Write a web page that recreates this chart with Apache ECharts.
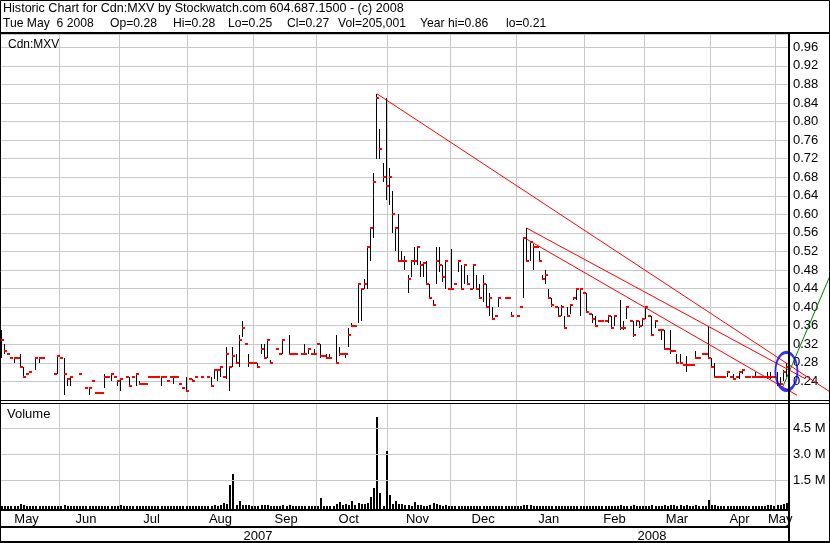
<!DOCTYPE html>
<html><head><meta charset="utf-8">
<script src="https://cdn.jsdelivr.net/npm/echarts@6/dist/echarts.min.js"></script>
<style>html,body{margin:0;padding:0;background:#fff}#c{width:830px;height:543px}</style>
</head><body><div id="c"></div>
<script>
// ---- data (one entry per trading day, May 7 2007 .. May 6 2008; null = no trade) ----
const high = [
.35,.32,.30,.29,.29,.29,.30,.27,.255,.26,
null,.29,.29,.29,null,null,null,.255,.295,.29,
.29,.245,.25,null,null,.255,null,.225,.225,.24,
.215,.215,.215,.255,.25,.255,.25,.24,.245,null,
.25,.25,.25,.255,.24,.235,.235,.25,.25,.25,
.25,.25,.25,.24,.25,.25,.25,.235,.225,.25,
.245,.245,.25,null,.25,null,.25,.25,.265,.265,
.27,.25,.315,.27,.315,.30,.34,.37,.32,.30,
.28,.28,.28,.32,.32,.33,.285,null,.31,.30,
.33,null,.34,.30,.30,null,.30,.32,.31,.30,
.31,.32,.32,.295,.30,.30,null,.34,.315,.30,
.30,.355,.365,.36,.45,.44,.46,.53,.57,.69,
.86,.785,.71,.85,.70,.65,.57,.60,.52,.51,
.47,.50,.53,.53,.50,.495,.50,.45,.415,.53,
.53,.49,.50,.44,.525,.45,.50,.49,.49,.47,
.44,.49,.47,.45,.47,.45,.43,.40,.38,.42,
null,.42,.42,.39,null,.38,.40,.55,.57,.54,
.535,.53,.52,.47,.48,.44,.42,.40,.40,.405,
.38,.40,.405,.42,.44,.44,.43,.43,.385,.385,
.38,.37,.37,.37,.38,.38,.38,null,.415,.37,
.40,.37,.37,.37,.37,.375,.40,.38,.38,.37,
.35,.35,.35,.31,.35,.305,.30,.30,.275,.295,
.275,.275,.305,.29,.30,.30,.36,.29,.28,.25,
.25,.25,.26,.25,.255,.25,.26,.265,.25,.25,
.25,.26,.25,.25,.25,.26,.26,.25,.26,.25,
.265,.28];
const low = [
.29,.30,.30,.29,.28,.29,.27,.25,.255,.26,
null,.265,.28,.29,null,null,null,.255,.255,.29,
.21,.23,.23,null,null,.255,null,.225,.21,.24,
.215,.215,.215,.225,.25,.24,.25,.23,.22,null,
.25,.23,.25,.23,.235,.235,.235,.25,.25,.25,
.25,.23,.25,.24,.25,.235,.25,.235,.225,.22,
.245,.24,.25,null,.25,null,.25,.23,.245,.24,
.25,.25,.245,.22,.27,.28,.27,.335,.32,.27,
.28,.28,.27,.30,.29,.29,.28,null,.31,.30,
.30,null,.30,.30,.30,null,.30,.30,.30,.30,
.30,.32,.29,.295,.29,.29,null,.28,.295,.30,
.29,.315,.36,.36,.365,.37,.44,.44,.50,.55,
.72,.72,.67,.63,.62,.56,.52,.50,.50,.48,
.43,.465,.49,.49,.465,.465,.45,.42,.405,.45,
.475,.455,.44,.44,.44,.45,.475,.44,.45,.45,
.44,.44,.44,.42,.41,.40,.38,.375,.38,.40,
null,.42,.42,.38,null,.38,.40,.42,.50,.50,
.48,.53,.50,.46,.45,.42,.40,.40,.38,.38,
.355,.38,.385,.415,.415,.38,.43,.39,.385,.365,
.36,.37,.37,.37,.365,.355,.36,null,.35,.35,
.375,.37,.335,.36,.355,.36,.375,.38,.34,.355,
.35,.33,.31,.31,.30,.305,.28,.28,.275,.26,
.275,.275,.29,.29,.30,.30,.29,.27,.25,.25,
.25,.25,.25,.25,.245,.25,.245,.255,.25,.25,
.25,.25,.25,.25,.25,.245,.245,.25,.23,.23,
.24,.25];
const close = [
.33,.305,.30,.29,.29,.29,.27,.25,.255,.26,
null,.29,.29,.29,null,null,null,.255,.295,.29,
.255,.245,.25,null,null,.255,null,.225,.225,.24,
.215,.215,.215,.25,.25,.255,.25,.24,.245,null,
.25,.23,.25,.255,.235,.235,.235,.25,.25,.25,
.25,.25,.25,.24,.25,.25,.25,.235,.225,.22,
.245,.24,.25,null,.25,null,.25,.23,.265,.265,
.27,.25,.30,.27,.295,.28,.33,.355,.32,.28,
.28,.28,.27,.31,.29,.33,.28,null,.31,.30,
.33,null,.30,.30,.30,null,.30,.30,.31,.30,
.30,.32,.295,.295,.29,.29,null,.28,.30,.30,
.30,.34,.36,.36,.45,.44,.45,.53,.57,.67,
.85,.74,.68,.66,.68,.60,.57,.50,.50,.50,
.46,.50,.50,.53,.49,.495,.45,.42,.405,.50,
.49,.465,.50,.44,.44,.45,.50,.44,.49,.45,
.44,.49,.44,.42,.45,.40,.42,.375,.38,.42,
null,.42,.42,.38,null,.38,.40,.55,.50,.54,
.53,.53,.50,.46,.47,.42,.405,.40,.38,.40,
.355,.38,.405,.42,.44,.44,.43,.39,.385,.375,
.36,.37,.37,.37,.38,.355,.38,null,.355,.355,
.40,.37,.34,.37,.36,.375,.40,.38,.34,.37,
.35,.35,.31,.31,.305,.305,.28,.28,.275,.275,
.275,.275,.29,.29,.30,.30,.29,.27,.25,.25,
.25,.25,.26,.25,.245,.25,.26,.265,.25,.25,
.25,.25,.25,.25,.25,.25,.25,.25,.235,.235,
.26,.27];
// volume in thousands of shares
const volumeK = [
40,25,15,20,30,25,130,60,20,25,
0,30,20,15,0,0,0,20,40,20,
60,30,25,0,0,15,0,20,35,15,
20,15,20,40,20,30,20,25,60,0,
20,30,20,35,25,20,20,25,20,30,
25,35,20,20,25,30,20,20,25,40,
20,25,20,0,20,0,20,40,50,40,
60,170,130,1230,1870,100,310,80,60,50,
40,35,30,80,70,90,40,0,30,25,
50,0,60,25,20,0,25,40,30,25,
30,40,500,40,30,30,0,150,270,60,
130,100,330,60,170,130,150,200,560,1060,
5130,790,30,3190,650,130,310,130,130,50,
60,40,250,60,60,40,40,60,170,130,
60,40,50,20,40,25,40,30,35,25,
20,30,25,30,40,30,25,20,25,30,
0,20,20,25,0,20,30,60,80,50,
40,30,35,40,30,40,30,25,40,35,
30,25,30,40,35,40,25,30,20,30,
25,20,25,30,35,40,30,0,60,30,
40,25,50,30,35,25,40,30,50,30,
25,30,60,40,70,60,45,80,40,100,
40,30,50,35,40,30,370,80,60,40,
30,25,30,25,40,30,35,30,25,20,
30,25,20,25,30,90,60,40,80,70,
110,205.001];

// axis / label lists
const monthStarts   = [19, 38, 60, 81, 101, 124, 144, 165, 187, 206, 227, 248];
const monthNames    = ['May','Jun','Jul','Aug','Sep','Oct','Nov','Dec','Jan','Feb','Mar','Apr','May'];
const monthLabelIdx = [8, 27, 48, 70, 91, 111, 133, 154, 175, 196, 216, 236, 249];
const yearNames     = ['2007', '2008'];
const yearLabelIdx  = [82, 208];
const yearStartIdx  = [165];
const volTicksM     = [1.5, 3.0, 4.5];

// annotations drawn on the chart: [dayIndex1, price1, dayIndex2, price2]
const redLines = [
  [120, 0.86, 265, 0.217],
  [168, 0.57, 257, 0.2456],
  [167, 0.55, 254.4, 0.21]
];
const greenLines = [[249.8, 0.2277, 265, 0.4685]];
const circleMark = [[251, 0.2616]];

const titleLine1 = 'Historic Chart for Cdn:MXV by Stockwatch.com 604.687.1500 - (c) 2008';
const titleParts2 = ['Tue May  6 2008', 'Op=0.28', 'Hi=0.28', 'Lo=0.25', 'Cl=0.27', 'Vol=205,001', 'Year hi=0.86', 'lo=0.21'];
const titleParts2X = [3, 110, 173, 228, 287, 338, 420, 506];

// ---- build ----
const N = high.length;
const days = high.map((_, i) => String(i));
const hlc = [];
for (let i = 0; i < N; i++) if (high[i] != null) hlc.push([i, high[i], low[i], close[i]]);
const vols = volumeK.map((v, i) => [i, v * 1000]);

const FONT = '"Liberation Sans", Arial, sans-serif';
const GRID_COLOR = '#c8c8c8';
const VOL_MIN = -185000;

function renderHLC(params, api) {
  const i = api.value(0);
  const t = api.coord([i, api.value(1)]);
  const b = api.coord([i, api.value(2)]);
  const c = api.coord([i, api.value(3)]);
  const x = Math.floor(t[0]);
  const ch = [];
  if (b[1] - t[1] >= 1) ch.push({type:'rect', shape:{x:x, y:Math.round(t[1]), width:1, height:Math.max(1,Math.round(b[1])-Math.round(t[1]))}, style:{fill:'#000'}});
  ch.push({type:'rect', shape:{x:x, y:Math.round(c[1]) - 1, width:3, height:2}, style:{fill:'#ff0000'}});
  return {type:'group', children:ch};
}
function renderVol(params, api) {
  const i = api.value(0);
  const t = api.coord([i, api.value(1)]);
  const b = api.coord([i, VOL_MIN]);
  const x = Math.floor(t[0]);
  return {type:'rect', shape:{x:x, y:Math.round(t[1]), width:2, height:Math.round(b[1]) - Math.round(t[1])}, style:{fill:'#000'}};
}
function makeSegRenderer(color) {
  return function (params, api) {
    const p1 = api.coord([api.value(0), api.value(1)]);
    const p2 = api.coord([api.value(2), api.value(3)]);
    return {type:'line', shape:{x1:p1[0], y1:p1[1], x2:p2[0], y2:p2[1]}, style:{stroke:color, lineWidth:1}};
  };
}

const chart = echarts.init(document.getElementById('c'), null, {renderer:'canvas'});
const TXT = (text, x, y, sx) => ({type:'text', x:x, y:y, scaleX:sx || 1, style:{text, font:'13px ' + FONT, fill:'#000'}, silent:true, z:100});

chart.setOption({
  animation:false,
  backgroundColor:'#fff',
  textStyle:{fontFamily:FONT},
  grid:[
    {left:0, right:42, top:34, bottom:143.1},
    {left:0, right:42, top:404, bottom:33.5}
  ],
  xAxis:[
    {type:'category', gridIndex:0, data:days, boundaryGap:true,
     axisLine:{show:false}, axisTick:{show:false}, axisLabel:{show:false},
     splitLine:{show:true, interval:(i)=>monthStarts.includes(i), lineStyle:{color:GRID_COLOR, width:1}}},
    {type:'value', gridIndex:0, min:-0.5, max:N-0.5, show:false},
    {type:'category', gridIndex:1, data:days, boundaryGap:true, position:'bottom',
     axisLine:{show:false},
     axisTick:{show:true, interval:(i)=>yearStartIdx.includes(i), length:33, lineStyle:{color:'#000', width:1}},
     axisLabel:{show:true, interval:(i)=>monthLabelIdx.includes(i), margin:3, fontSize:13, color:'#000', fontFamily:FONT,
       formatter:(v, i)=>monthNames[monthLabelIdx.indexOf(i)] || ''},
     splitLine:{show:true, interval:(i)=>monthStarts.includes(i), lineStyle:{color:GRID_COLOR, width:1}}},
    {type:'category', gridIndex:1, data:days, boundaryGap:true, position:'bottom', offset:17,
     axisLine:{show:false}, axisTick:{show:false}, splitLine:{show:false},
     axisLabel:{show:true, interval:(i)=>yearLabelIdx.includes(i), margin:3, fontSize:13, color:'#000', fontFamily:FONT,
       formatter:(v, i)=>yearNames[yearLabelIdx.indexOf(i)] || ''}}
  ],
  yAxis:[
    {type:'value', gridIndex:0, position:'right', min:0.2, max:0.9887, interval:0.04,
     axisLine:{show:false}, axisTick:{show:false},
     axisLabel:{margin:5, fontSize:13, color:'#000', fontFamily:FONT, formatter:(v)=> (v > 0.21 && v < 0.97) ? v.toFixed(2) : ''},
     splitLine:{show:true, lineStyle:{color:GRID_COLOR, width:1}}},
    {type:'value', gridIndex:1, position:'right', min:VOL_MIN, max:5.9e6,
     axisLine:{show:false}, axisTick:{show:false}, axisLabel:{show:false}, splitLine:{show:false}}
  ],
  series:[
    {type:'custom', name:'price', xAxisIndex:0, yAxisIndex:0, data:hlc, renderItem:renderHLC, z:3, silent:true, clip:false},
    {type:'line', name:'volgrid', xAxisIndex:2, yAxisIndex:1, data:[], z:1, silent:true,
     markLine:{silent:true, symbol:'none', animation:false,
       lineStyle:{color:GRID_COLOR, type:'solid', width:1},
       label:{show:true, position:'end', distance:5, color:'#000', fontSize:13, fontFamily:FONT, formatter:(p)=> (p.value/1e6).toFixed(1) + ' M'},
       data: volTicksM.map(v=>({yAxis:v*1e6}))}},
    {type:'custom', name:'volume', xAxisIndex:2, yAxisIndex:1, data:vols, renderItem:renderVol, z:3, silent:true, clip:false},
    {type:'custom', name:'redTrend', xAxisIndex:1, yAxisIndex:0, data:redLines, renderItem:makeSegRenderer('#ff0000'), z:6, silent:true, clip:false,
     encode:{x:[0,2], y:[1,3]}},
    {type:'custom', name:'greenTrend', xAxisIndex:1, yAxisIndex:0, data:greenLines, renderItem:makeSegRenderer('#008000'), z:6, silent:true, clip:false,
     encode:{x:[0,2], y:[1,3]}},
    {type:'scatter', xAxisIndex:1, yAxisIndex:0, data:circleMark, symbol:'circle', symbolSize:[22,38], clip:false, silent:true, z:7,
     itemStyle:{color:'rgba(0,0,0,0)', borderColor:'#0000ff', borderWidth:2.5}}
  ],
  graphic:[
    {type:'rect', shape:{x:0.5, y:0.5, width:829, height:542}, style:{fill:null, stroke:'#000', lineWidth:1}, silent:true, z:100},
    {type:'rect', shape:{x:0, y:32, width:830, height:2}, style:{fill:'#000'}, silent:true, z:100},
    {type:'rect', shape:{x:788, y:33, width:2, height:510}, style:{fill:'#000'}, silent:true, z:100},
    {type:'rect', shape:{x:0, y:400, width:830, height:1}, style:{fill:'#000'}, silent:true, z:100},
    {type:'rect', shape:{x:0, y:403, width:830, height:1}, style:{fill:'#000'}, silent:true, z:100},
    {type:'rect', shape:{x:0, y:509, width:789, height:2}, style:{fill:'#000'}, silent:true, z:100},
    {type:'rect', shape:{x:0, y:526, width:789, height:2}, style:{fill:'#000'}, silent:true, z:100},
    {type:'rect', shape:{x:0, y:541, width:830, height:2}, style:{fill:'#000'}, silent:true, z:100},
    TXT(titleLine1, 3, 2, 0.966),
    ...titleParts2.map((t, k) => TXT(t, titleParts2X[k], 17, 0.935)),
    TXT('Cdn:MXV', 8, 38, 0.92),
    TXT('Volume', 7, 408, 1)
  ]
});
</script></body></html>
